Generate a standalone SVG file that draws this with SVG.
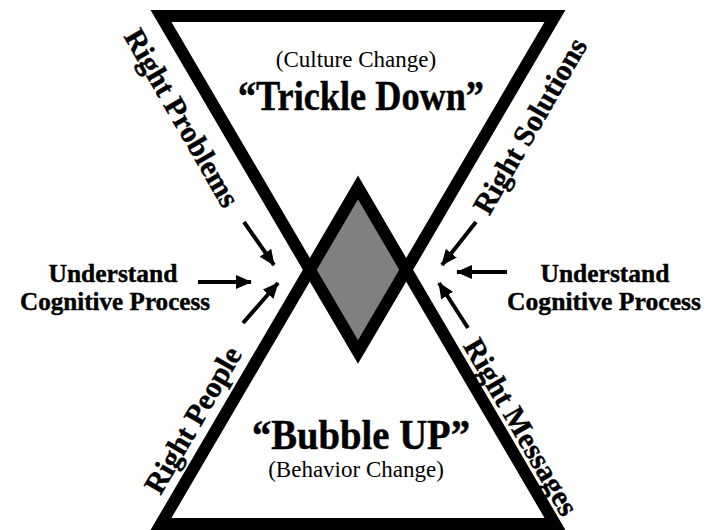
<svg xmlns="http://www.w3.org/2000/svg" width="709" height="530" viewBox="0 0 709 530">
  <style>
    .tri { fill: none; stroke: #000; stroke-width: 12; stroke-linejoin: miter; stroke-miterlimit: 10; }
    .sub { font-family: "Liberation Serif", "Times New Roman", serif; font-size: 23px; fill: #000; text-anchor: middle; }
    .big { font-family: "Liberation Serif", "Times New Roman", serif; font-size: 43px; font-weight: bold; fill: #000; stroke: #000; stroke-width: 0.5; text-anchor: middle; }
    .side { font-family: "Liberation Serif", "Times New Roman", serif; font-size: 25px; font-weight: bold; fill: #000; stroke: #000; stroke-width: 0.4; text-anchor: middle; }
    .edge { font-family: "Liberation Serif", "Times New Roman", serif; font-size: 30px; font-weight: bold; fill: #000; stroke: #000; stroke-width: 0.4; text-anchor: middle; }
    .arr { stroke: #000; stroke-width: 4; fill: none; marker-end: url(#head); }
  </style>
  <defs>
    <marker id="head" markerUnits="userSpaceOnUse" markerWidth="16" markerHeight="16" viewBox="0 0 16 16" refX="15" refY="8" orient="auto">
      <path d="M0,1 L16,8 L0,15 z" fill="#000"/>
    </marker>
  </defs>
  <rect width="709" height="530" fill="#fff"/>

  <g id="core">
    <polygon points="358,187.5 310,270 358,352 406,270" fill="#808080"/>
  </g>
  <g id="top-triangle">
    <polygon class="tri" points="161,16 555,16 358,352"/>
    <text class="sub" x="356" y="67">(Culture Change)</text>
    <text class="big" x="361" y="110" textLength="246" lengthAdjust="spacingAndGlyphs">“Trickle Down”</text>
  </g>
  <g id="bottom-triangle">
    <polygon class="tri" points="161,524 555,524 358,187.5"/>
    <text class="big" x="361" y="449" textLength="218" lengthAdjust="spacingAndGlyphs">“Bubble UP”</text>
    <text class="sub" x="356" y="477">(Behavior Change)</text>
  </g>

  <g id="label-right-problems">
    <text class="edge" transform="translate(182,118) rotate(60)" x="0" y="10">Right Problems</text>
  </g>
  <g id="label-right-solutions">
    <text class="edge" transform="translate(530,126) rotate(-60)" x="0" y="10">Right Solutions</text>
  </g>
  <g id="label-right-people">
    <text class="edge" transform="translate(193,420) rotate(-60)" x="0" y="10">Right People</text>
  </g>
  <g id="label-right-messages">
    <text class="edge" transform="translate(521,427) rotate(60)" x="0" y="10">Right Messages</text>
  </g>

  <g id="understand-left">
    <text class="side" x="113" y="282" textLength="129" lengthAdjust="spacingAndGlyphs">Understand</text>
    <text class="side" x="115" y="310" textLength="190" lengthAdjust="spacingAndGlyphs">Cognitive Process</text>
  </g>
  <g id="understand-right">
    <text class="side" x="605" y="282" textLength="129" lengthAdjust="spacingAndGlyphs">Understand</text>
    <text class="side" x="604" y="310" textLength="194" lengthAdjust="spacingAndGlyphs">Cognitive Process</text>
  </g>

  <g id="connectors">
    <line class="arr" x1="244" y1="222" x2="274" y2="265"/>
    <line class="arr" x1="198" y1="282" x2="251" y2="282"/>
    <line class="arr" x1="243" y1="323" x2="278" y2="283"/>
    <line class="arr" x1="476" y1="222" x2="442" y2="265"/>
    <line class="arr" x1="507" y1="272" x2="457" y2="272"/>
    <line class="arr" x1="468" y1="328" x2="439" y2="283"/>
  </g>
</svg>
